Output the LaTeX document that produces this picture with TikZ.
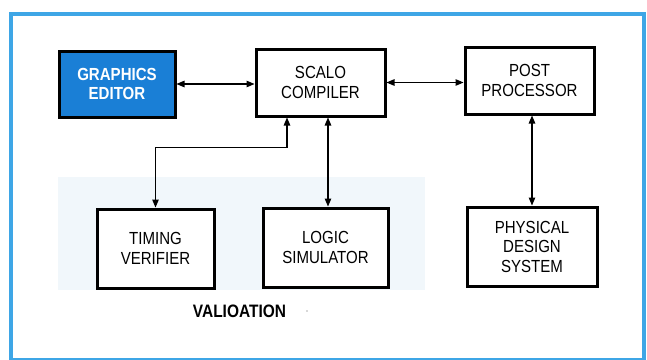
\documentclass[tikz,border=0pt]{standalone}
\usepackage{fontspec}
\setmainfont{Liberation Sans}[FakeStretch=0.86]
\usetikzlibrary{arrows.meta}
\definecolor{frameblue}{HTML}{3EA6E6}
\definecolor{geblue}{HTML}{1A7FD6}
\definecolor{paleblue}{HTML}{F1F7FB}
\tikzset{
  blk/.style={draw=black, line width=3pt, rectangle, align=center, fill=white,
    font=\fontsize{17.5}{19.5}\selectfont, inner sep=0pt},
  link/.style={line width=1.1pt, {Triangle[length=8pt,width=6.5pt]}-{Triangle[length=8pt,width=6.5pt]}},
}
\begin{document}
\begin{tikzpicture}[x=1pt,y=-1pt]
\useasboundingbox (0,0) rectangle (647,359);
\fill[white] (0,0) rectangle (647,359);
\fill[paleblue] (58,177) rectangle (425,290);
\draw[frameblue, line width=4.5pt] (11,14) rectangle (644,360);

\node[blk, fill=geblue, text=white, font=\fontsize{17.5}{19.5}\selectfont\bfseries,
      minimum width=116pt, minimum height=66pt] (ge) at (117,84) {GRAPHICS\\EDITOR};
\node[blk, minimum width=129pt, minimum height=67pt] (sc) at (320.5,82.5) {SCALO\\COMPILER};
\node[blk, minimum width=129pt, minimum height=67pt] (po) at (529.5,80.5) {POST\\PROCESSOR};
\node[blk, minimum width=117pt, minimum height=79pt] (tv) at (155.5,248.5) {TIMING\\VERIFIER};
\node[blk, minimum width=125pt, minimum height=79pt] (ls) at (325.5,247.5) {LOGIC\\SIMULATOR};
\node[blk, minimum width=130pt, minimum height=79pt] (ph) at (532,246.5) {PHYSICAL\\DESIGN\\SYSTEM};

\node[font=\fontsize{18}{20}\selectfont\bfseries, inner sep=0pt] (val) at (239.5,311) {VALIOATION};
\fill[gray!60] (307,311) circle (0.8pt);

\draw[link] (ge.east) -- (ge.east -| sc.west);
\draw[link] (sc.east) -- (sc.east -| po.west);
\draw[link] ([xshift=-33.5pt]sc.south) -- ++(0,30) -| (tv.north);
\draw[link] ([xshift=7.5pt]sc.south) -- ([xshift=7.5pt]sc.south |- ls.north);
\draw[link] (ph.north |- po.south) -- (ph.north);
\end{tikzpicture}
\end{document}
